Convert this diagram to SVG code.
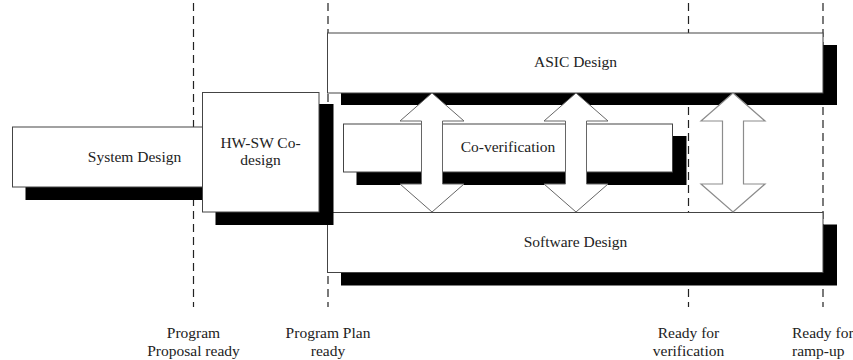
<svg xmlns="http://www.w3.org/2000/svg" width="853" height="360" viewBox="0 0 853 360">
  <style>
    .box { fill: #ffffff; stroke: #444444; stroke-width: 1; }
    .shadow { fill: #000000; }
    .milestone { stroke: #222222; stroke-width: 1.2; stroke-dasharray: 8 5; fill: none; }
    .arrow { fill: #ffffff; stroke: #666666; stroke-width: 1; }
    .arrow-light { fill: #ffffff; stroke: #8c8c8c; stroke-width: 1.2; }
    text { font-family: "Liberation Serif", "Times New Roman", serif; font-size: 15.5px; fill: #222222; }
    .c { text-anchor: middle; }
  </style>

  <rect width="853" height="360" fill="#ffffff"/>

  <!-- milestone lines (behind the phase boxes) -->
  <g id="milestones">
    <line class="milestone" x1="193.5" y1="3" x2="193.5" y2="307"/>
    <line class="milestone" x1="328" y1="3" x2="328" y2="307"/>
    <line class="milestone" x1="688.5" y1="3" x2="688.5" y2="307"/>
    <line class="milestone" x1="823" y1="3" x2="823" y2="307"/>
  </g>

  <g id="asic-design">
    <rect class="shadow" x="341" y="45" width="496" height="60"/>
    <rect class="box" x="327.5" y="33" width="495.5" height="60"/>
    <text class="c" x="575.5" y="67">ASIC Design</text>
  </g>

  <g id="software-design">
    <rect class="shadow" x="341" y="224.5" width="496" height="61"/>
    <rect class="box" x="327.5" y="212.5" width="495.5" height="60"/>
    <text class="c" x="575.5" y="247">Software Design</text>
  </g>

  <g id="co-verification">
    <rect class="shadow" x="356.5" y="136" width="330" height="49"/>
    <rect class="box" x="343.5" y="124" width="329" height="48"/>
    <text class="c" x="508" y="152">Co-verification</text>
  </g>

  <!-- two-way exchange arrows between ASIC and software design -->
  <g id="connectors">
    <path class="arrow" d="M432,93 L464,121 L442.5,121 L442.5,184 L464,184 L432,212 L400,184 L421.5,184 L421.5,121 L400,121 Z"/>
    <path class="arrow" d="M576,93 L608,121 L586.5,121 L586.5,184 L608,184 L576,212 L544,184 L565.5,184 L565.5,121 L544,121 Z"/>
    <path class="arrow-light" d="M733,93 L765,121 L743.5,121 L743.5,184 L765,184 L733,212 L701,184 L722.5,184 L722.5,121 L701,121 Z"/>
  </g>

  <g id="system-design">
    <rect class="shadow" x="25.5" y="187" width="190" height="13"/>
    <rect class="box" x="12.5" y="127" width="200" height="60"/>
    <text class="c" x="134.5" y="161.5">System Design</text>
  </g>

  <g id="hw-sw-codesign">
    <rect class="shadow" x="215.5" y="104" width="118" height="121"/>
    <rect class="box" x="202.5" y="92.5" width="116.5" height="119.5"/>
    <text class="c" x="260.5" y="148">HW-SW Co-</text>
    <text class="c" x="260.5" y="164.5">design</text>
  </g>

  <g id="labels">
    <text class="c" x="193.5" y="338">Program</text>
    <text class="c" x="193.5" y="356">Proposal ready</text>
    <text class="c" x="328" y="338">Program Plan</text>
    <text class="c" x="328" y="356">ready</text>
    <text class="c" x="688.5" y="338">Ready for</text>
    <text class="c" x="688.5" y="356">verification</text>
    <text x="792" y="338">Ready for</text>
    <text x="792" y="356">ramp-up</text>
  </g>
</svg>
